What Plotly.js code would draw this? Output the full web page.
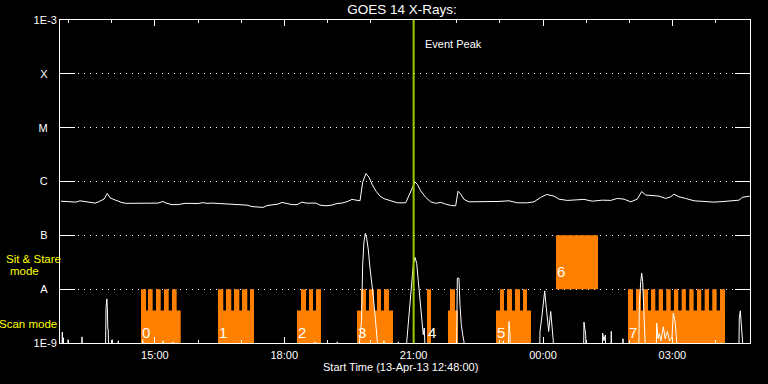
<!DOCTYPE html>
<html><head><meta charset="utf-8">
<script src="https://cdn.plot.ly/plotly-3.0.1.min.js"></script>
<style>html,body{margin:0;padding:0;background:#000;}#chart{width:768px;height:384px;}</style>
</head><body><div id="chart"></div>
<script>
// ---- data (times in minutes after 13-Apr-13 12:48:00 UT) ----
const startTime = Date.UTC(2013, 3, 13, 12, 48, 0);
const spanMinutes = 960;
const eventPeakMin = 492;

// GOES 14 long channel (1-8 A), W/m^2
const longMin = [1.4,13.9,22.3,27.8,34.8,41.7,48.7,52.9,55.7,61.2,
 65.8,69.6,73.7,80.7,86.3,91.8,104.3,118.3,136.3,143.3,
 147.5,155.8,164.2,173.9,183.7,192,199,204.5,211.5,222.6,
 233.7,240.7,250.4,260.2,267.1,275.5,282.4,288,296.3,303.3,
 308.9,314.4,322.8,329.7,336.7,342.3,350.6,356.2,361.7,370.1,
 378.4,385.4,392.3,399.3,406.3,413.2,417.4,421.1,425.7,429.9,
 434.1,439.7,445.2,450.8,460.1,469.3,481,485.6,490.2,493.9,
 497.1,501.8,508.8,515.7,522.7,529.7,536.6,543.6,550.5,553.7,
 557.5,562.1,569,580.6,589.9,599.2,610.8,624.7,636.3,650.2,
 659.5,668.8,677.2,687.3,694.3,705.8,717.5,729,740.6,754.5,
 766.2,775.4,784.7,794,803.2,809.3,814.9,824.1,833.4,842.7,
 849.7,854.3,861.2,870.5,882.1,896,909.9,923.8,935.4,944.7,
 949.3,959.6];
const longFlux = [4.31e-7,4.22e-7,4.14e-7,4.38e-7,4.22e-7,4.05e-7,3.97e-7,4.14e-7,4.31e-7,4.7e-7,
 6.0e-7,5.0e-7,4.7e-7,4.31e-7,4.05e-7,3.93e-7,3.93e-7,3.93e-7,3.97e-7,4.26e-7,
 3.97e-7,3.72e-7,3.72e-7,3.93e-7,3.86e-7,3.9e-7,4.05e-7,3.93e-7,3.97e-7,3.9e-7,
 3.8e-7,3.72e-7,3.64e-7,3.64e-7,3.42e-7,3.34e-7,3.3e-7,3.57e-7,3.64e-7,3.8e-7,
 4.09e-7,3.93e-7,3.72e-7,3.72e-7,4.14e-7,3.97e-7,3.93e-7,3.97e-7,3.64e-7,3.54e-7,
 3.64e-7,3.9e-7,3.97e-7,4.22e-7,4.65e-7,4.57e-7,4.38e-7,9.7e-7,1.41e-6,1.2e-6,
 8.9e-7,6.6e-7,5.35e-7,4.8e-7,4.38e-7,4.02e-7,4.02e-7,5.6e-7,7.4e-7,9.8e-7,
 8.9e-7,6.7e-7,5.07e-7,4.19e-7,3.93e-7,4.09e-7,3.8e-7,3.59e-7,3.54e-7,6.6e-7,
 5.82e-7,4.65e-7,4.19e-7,4.19e-7,4.31e-7,4.19e-7,4.26e-7,4.38e-7,4.02e-7,4.02e-7,
 4.19e-7,5.07e-7,5.75e-7,5.35e-7,4.7e-7,4.45e-7,4.5e-7,4.65e-7,4.31e-7,4.5e-7,
 4.45e-7,4.85e-7,4.7e-7,4.19e-7,4.7e-7,6.5e-7,5.6e-7,5.4e-7,5.35e-7,4.85e-7,
 5.2e-7,5.82e-7,5.2e-7,4.85e-7,4.38e-7,4.26e-7,4.14e-7,4.26e-7,4.38e-7,4.5e-7,
 5.07e-7,5.35e-7];

// GOES 14 short channel (0.5-4 A), W/m^2 (mostly below 1E-9)
const shortMin = [0,2.6,3.2,3.9,4.3,4.7,5.2,10.5,11.1,11.8,12.4,30.0,30.6,31.2,
 63.2,64.0,65.2,65.9,66.5,67.1,67.8,72.2,72.8,73.4,80.5,81.1,81.7,
 114.4,115,115.6,142.7,143.3,143.9,156.6,157.2,157.8,354.2,354.8,355.4,
 385.2,385.8,386.4,
 416.0,416.8,419.5,421.1,422.9,424.8,426.7,429,431.3,433.7,435.9,438.3,439.7,441.5,442.2,
 450.2,450.8,451.4,470.1,470.7,471.3,
 481.8,482.4,484.6,487,489.3,491.5,493.9,496.3,498.5,500.9,503.2,505.4,506.8,507.8,508.5,
 551.3,551.9,552.8,555.1,556.5,558.3,560.3,562.1,562.8,
 616.2,616.8,617.4,623.5,624.7,626.1,626.8,
 667.2,667.8,670.2,672.4,674.4,676.2,678,679.9,682.7,684.5,686.3,687,
 728.3,729,731.4,732.1,754.4,755,756.8,758.7,759.4,766.4,767,767.7,782.7,783.3,784,
 805.2,806,808,809.3,810.7,812.5,814.3,815,
 829.4,830.2,832,833.8,836,839.4,842,845,848,851.5,853.3,856.1,858,858.7,
 944.4,945.1,946.5,948.5,950,951.5,960];
const shortFlux = [5e-10,5e-10,1.6e-9,5e-10,5e-10,1.25e-9,5e-10,5e-10,1.15e-9,1.1e-9,5e-10,5e-10,1.3e-9,5e-10,
 5e-10,4.5e-9,6.6e-9,4.5e-9,1.8e-9,1.8e-9,5e-10,5e-10,1.15e-9,5e-10,5e-10,1.1e-9,5e-10,
 5e-10,1.15e-9,5e-10,5e-10,1.1e-9,5e-10,5e-10,1.05e-9,5e-10,5e-10,1.05e-9,5e-10,
 5e-10,1.05e-9,5e-10,
 5e-10,1.1e-9,2.5e-9,2.8e-8,7.6e-8,1.09e-7,8.8e-8,5.35e-8,2.45e-8,1.38e-8,7.3e-9,3.3e-9,2.2e-9,1.07e-9,5e-10,
 5e-10,1.1e-9,5e-10,5e-10,1.05e-9,5e-10,
 5e-10,1.05e-9,2.2e-9,5.9e-9,1.2e-8,2.8e-8,3.9e-8,3.0e-8,1.4e-8,5.9e-9,2.9e-9,1.43e-9,1.9e-9,1.1e-9,5e-10,
 5e-10,1.05e-9,1.6e-8,1.6e-8,5.1e-9,2.2e-9,1.43e-9,1.05e-9,5e-10,
 5e-10,1.1e-9,5e-10,5e-10,2.5e-9,1.4e-9,5e-10,
 5e-10,1.64e-9,2.9e-9,5.9e-9,9.3e-9,5.1e-9,2.9e-9,1.64e-9,3.85e-9,2.2e-9,1.1e-9,5e-10,
 5e-10,2.45e-9,1.4e-9,5e-10,5e-10,1.53e-9,1.1e-9,1.4e-9,5e-10,5e-10,1.64e-9,5e-10,5e-10,1.2e-9,5e-10,
 5e-10,5.1e-9,1.38e-8,1.98e-8,1.38e-8,4.45e-9,1.8e-9,5e-10,
 5e-10,2.34e-9,1.2e-9,1.5e-9,1.1e-9,2.0e-9,1.2e-9,1.64e-9,1.1e-9,1.3e-9,3.6e-9,2.3e-9,1.05e-9,5e-10,
 5e-10,2.9e-9,3.96e-9,1.43e-9,1.1e-9,5e-10,5e-10];

// Observation mode blocks (minutes)
const scanStart = [112.7,219.8,329.7,413.2,510.6,539.8,606.6,790.3];
const scanEnd   = [167.9,269.9,363.1,463.3,516.2,553.7,655.3,925.2];
const toothStart = [112.7,122.4,133.6,144.7,155.8, 219.8,230.9,242.1,253.2,264.3,
 335.3,346.4,356.2, 418.8,429.9,441.0,450.8, 510.6,542.6, 612.2,621.9,633.0,644.2,
 790.3,801.4,811.5,822.3,833.0,843.5,854.2,864.9,875.5,886.2,896.9,907.5,918.3];
const toothEnd = [119.7,128.9,140.1,151.2,162.3, 227.2,238.3,249.5,260.6,269.9,
 342.3,352.0,363.1, 425.7,436.8,446.6,457.7, 516.2,549.6, 617.7,628.9,640.0,649.7,
 797.2,808.3,818.1,828.3,839.0,849.7,860.2,870.8,881.6,892.2,902.9,913.6,925.2];
const stareStart = [690.1];
const stareEnd = [748.5];
const scanLow = 1e-9, scanStep = 4e-9, scanTop = 1e-8, stareTop = 1e-7;

const blockLabels = ['0','1','2','3','4','5','6','7'];
const blockLabelMin = [112.7,219.8,329.7,413.2,510.6,606.6,690.1,790.3];
const blockLabelFlux = [1.6e-9,1.6e-9,1.6e-9,1.6e-9,1.6e-9,1.6e-9,2.1e-8,1.6e-9];

const yTickVals = [1e-9,1e-8,1e-7,1e-6,1e-5,1e-4,1e-3];
const yTickText = ['1E-9','A','B','C','M','X','1E-3'];

// ---- helpers ----
function t(m){ return new Date(startTime + m*60000).toISOString().replace('T',' ').replace('Z',''); }

const rx = [], ry = [];
function rect(a,b,lo,hi){ rx.push(t(a),t(b),t(b),t(a),t(a),null); ry.push(lo,lo,hi,hi,lo,null); }
scanStart.forEach((s,i)=>rect(s, scanEnd[i], scanLow, scanStep));
toothStart.forEach((s,i)=>rect(s, toothEnd[i], scanLow, scanTop));
stareStart.forEach((s,i)=>rect(s, stareEnd[i], scanTop, stareTop));

const ORANGE = '#ff8000';
const traces = [
 {x: rx, y: ry, type:'scatter', mode:'lines', fill:'toself', fillcolor:ORANGE, line:{width:0, color:ORANGE}, hoverinfo:'skip'},
 {x: shortMin.map(t), y: shortFlux, type:'scatter', mode:'lines', line:{color:'#ffffff', width:1}},
 {x: longMin.map(t), y: longFlux, type:'scatter', mode:'lines', line:{color:'#ffffff', width:1}}
];

const FONT = 'Liberation Sans, Arial, sans-serif';
const annotations = [
 {xref:'x', x:t(eventPeakMin), xanchor:'left', xshift:9, yref:'paper', y:0.927, yanchor:'middle',
  text:'Event Peak', showarrow:false, font:{size:11, color:'#fff', family:FONT}},
 {xref:'paper', x:-0.0377, xanchor:'center', yref:'paper', y:0.261, yanchor:'middle',
  text:'Sit &amp; Stare', showarrow:false, font:{size:11.5, color:'#ffff00', family:FONT}},
 {xref:'paper', x:-0.0517, xanchor:'center', yref:'paper', y:0.2233, yanchor:'middle',
  text:'mode', showarrow:false, font:{size:11.5, color:'#ffff00', family:FONT}},
 {xref:'paper', x:-0.0459, xanchor:'center', yref:'paper', y:0.0596, yanchor:'middle',
  text:'Scan mode', showarrow:false, font:{size:11.5, color:'#ffff00', family:FONT}},
 {xref:'paper', x:0.4935, xanchor:'center', yref:'paper', y:-0.0754, yanchor:'middle',
  text:'Start Time (13-Apr-13 12:48:00)', showarrow:false, font:{size:11, color:'#fff', family:FONT}}
];
blockLabels.forEach((lab,i)=>annotations.push({
 xref:'x', x:t(blockLabelMin[i]), xanchor:'left', xshift:-1, yref:'y', y:Math.log10(blockLabelFlux[i]),
 yanchor:'middle', text:lab, showarrow:false, font:{size:15, color:'#fff', family:FONT}
}));

const layout = {
 width:768, height:384,
 paper_bgcolor:'#000', plot_bgcolor:'#000',
 margin:{l:60, r:18, t:20, b:41, pad:0},
 showlegend:false,
 font:{family:FONT, size:11, color:'#fff'},
 title:{text:'GOES 14 X-Rays:', font:{size:13.5, color:'#fff', family:FONT},
        xref:'paper', x:0.4957, xanchor:'center', yref:'container', y:0.975, yanchor:'middle'},
 xaxis:{type:'date', range:[t(0), t(spanMinutes)], tick0:t(132), dtick:3*3600000, tickformat:'%H:%M',
        ticks:'inside', ticklen:6, tickwidth:1, tickcolor:'#fff', ticklabelstandoff:2,
        minor:{dtick:3600000, tick0:t(12), ticks:'inside', ticklen:3, tickwidth:1, tickcolor:'#fff', showgrid:false},
        showline:true, linecolor:'#fff', linewidth:1, mirror:'ticks', showgrid:false, zeroline:false,
        tickfont:{size:11, color:'#fff', family:FONT}},
 yaxis:{type:'log', range:[-9,-3], tickmode:'array', tickvals:yTickVals,
        ticktext:yTickText.map(s => s.length===1 ? s+'\u00a0\u00a0\u00a0' : s),
        ticks:'inside', ticklen:15, tickwidth:1, tickcolor:'#fff',
        showline:true, linecolor:'#fff', linewidth:1, mirror:'ticks',
        showgrid:true, gridcolor:'#fff', gridwidth:1, griddash:'1px,5px', zeroline:false,
        tickfont:{size:11, color:'#fff', family:FONT}},
 shapes:[{type:'line', xref:'x', yref:'paper', x0:t(eventPeakMin), x1:t(eventPeakMin), y0:0, y1:1,
          line:{color:'#99cc00', width:2}, layer:'above'}],
 annotations: annotations
};

Plotly.newPlot('chart', traces, layout, {staticPlot:true, displayModeBar:false});
</script>
</body></html>
